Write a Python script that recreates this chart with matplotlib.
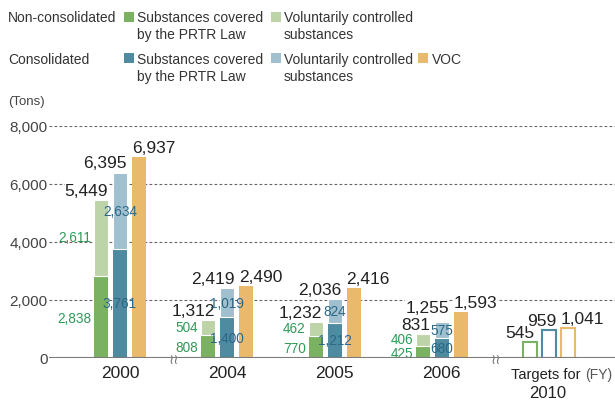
import matplotlib
matplotlib.use("Agg")
import matplotlib.pyplot as plt
from matplotlib.patches import Rectangle
import numpy as np

plt.rcParams["font.family"] = ["Liberation Sans", "DejaVu Sans"]

# ── Data ──────────────────────────────────────────────
years = ["2000", "2004", "2005", "2006"]
nc_prtr = [2838, 808, 770, 425]      # non-consolidated, PRTR Law
nc_vol = [2611, 504, 462, 406]       # non-consolidated, voluntary
c_prtr = [3761, 1400, 1212, 680]     # consolidated, PRTR Law
c_vol = [2634, 1019, 824, 575]       # consolidated, voluntary
voc = [6937, 2490, 2416, 1593]
targets_2010 = [545, 959, 1041]      # nc total, consolidated total, VOC
yticks = [0, 2000, 4000, 6000, 8000]

# ── Style ─────────────────────────────────────────────
G_DARK, G_LIGHT = "#7bb262", "#bcd4a8"
B_DARK, B_LIGHT = "#4e8aa0", "#a0bfcf"
ORANGE = "#e9b96c"
G_TEXT, B_TEXT = "#2e9b57", "#2a6887"
DARK = "#222222"
GREY = "#444444"
SEG_SIZE = 9.8

W, H = 615, 402
fig = plt.figure(figsize=(W / 100, H / 100), dpi=100)


def fx(x):
    return x / W


def fy(y):
    return 1 - y / H


# axes: y=0 at px 359, y=8000 at px 127; group 0 centred at px 120, step 107.25
ax = fig.add_axes([fx(49), fy(359), fx(W - 49), (359 - 127) / H])
step = 107.25
ax.set_xlim((49 - 120) / step, (W - 120) / step)
ax.set_ylim(0, 8000)
for s in ax.spines.values():
    s.set_visible(False)
ax.set_xticks([])
ax.set_yticks(yticks)
ax.set_yticklabels([f"{v:,}" for v in yticks], fontsize=11, color=GREY)
ax.tick_params(axis="y", length=0, pad=1)

for v in yticks[1:]:
    ax.axhline(v, color="#666666", lw=0.8, ls=(0, (2.5, 2)), zorder=0)
ax.axhline(0, color="#7a7a7a", lw=1.5, zorder=4)

bw = 14 / step
off = 19 / step
x = np.arange(len(years))

# ── Bars ──────────────────────────────────────────────
ax.bar(x - off, nc_prtr, bw, color=G_DARK, zorder=2)
ax.bar(x - off, nc_vol, bw, bottom=nc_prtr, color=G_LIGHT, edgecolor="white",
       linewidth=0.8, zorder=2)
ax.bar(x, c_prtr, bw, color=B_DARK, zorder=2)
ax.bar(x, c_vol, bw, bottom=c_prtr, color=B_LIGHT, edgecolor="white",
       linewidth=0.8, zorder=2)
ax.bar(x + off, voc, bw, color=ORANGE, zorder=2)

xt = 4
ax.bar([xt - off, xt, xt + off], targets_2010, bw, color="white",
       edgecolor=[G_DARK, B_DARK, ORANGE], linewidth=1.5, zorder=2)

box = dict(fc="white", ec="none", pad=0)


def total_label(xp, val, ha, dx, dy=1.5):
    ax.annotate(f"{val:,}", (xp, val), xytext=(dx, dy), textcoords="offset points",
                ha=ha, va="bottom", fontsize=12.5, color=DARK, bbox=box, zorder=3)


def seg_label(xp, yp, val, ha, dx, dy, color):
    ax.annotate(f"{val:,}", (xp, yp), xytext=(dx, dy), textcoords="offset points",
                ha=ha, va="center", fontsize=SEG_SIZE, color=color, zorder=3)


half = bw / 2
for i in range(len(years)):
    nt = nc_prtr[i] + nc_vol[i]
    ct = c_prtr[i] + c_vol[i]
    total_label(x[i] - off + half, nt, "right", 0)
    # lift the consolidated total when it sits right above the green one
    total_label(x[i] + half, ct, "right", 0, 4.5 if ct - nt < 500 else 1.5)
    total_label(x[i] + off - half, voc[i], "left", 0)

    seg_label(x[i] - off - half, nc_prtr[i] / 2, nc_prtr[i], "right", -2, -0.5, G_TEXT)
    seg_label(x[i] - off - half, nc_prtr[i] + nc_vol[i] / 2, nc_vol[i], "right", -2, 0.5, G_TEXT)
    seg_label(x[i], c_prtr[i] / 2, c_prtr[i], "center", 0, 0, B_TEXT)
    seg_label(x[i], c_prtr[i] + c_vol[i] / 2, c_vol[i], "center", 0, 0, B_TEXT)

total_label(xt - off + half, targets_2010[0], "right", -2)
total_label(xt + half, targets_2010[1], "right", 0)
total_label(xt + off - half, targets_2010[2], "left", 0)

# ── x labels ──────────────────────────────────────────
for i, yr in enumerate(years):
    ax.annotate(yr, (x[i], 0), xytext=(0, -10.5), textcoords="offset points",
                ha="center", va="center", fontsize=12.5, color=DARK)
ax.annotate("Targets for", (xt - 0.03, 0), xytext=(0, -11.5), textcoords="offset points",
            ha="center", va="center", fontsize=10.5, color=DARK)
ax.annotate("(FY)", (xt + 0.46, 0), xytext=(0, -11.5), textcoords="offset points",
            ha="center", va="center", fontsize=10, color="#555555")
ax.annotate("2010", (xt - 0.01, 0), xytext=(0, -25), textcoords="offset points",
            ha="center", va="center", fontsize=12, color=DARK)

# axis break marks
for xb in [0.5, 3.5]:
    ax.annotate("\u2240\u2240", (xb, 0), xytext=(0, -0.5), textcoords="offset points",
                ha="center", va="center", fontsize=10, color="#777777",
                family="DejaVu Sans", zorder=5)

fig.text(fx(8), fy(102), "(Tons)", fontsize=9.5, color=GREY, va="center")

# ── Legend ────────────────────────────────────────────
LEG = "#333333"


def swatch(x0, y0, color):
    fig.patches.append(Rectangle((fx(x0), fy(y0 + 10)), fx(10), 10 / H,
                                 transform=fig.transFigure, facecolor=color,
                                 edgecolor="none"))


def leg_text(x0, y0, s):
    fig.text(fx(x0), fy(y0), s, fontsize=10, color=LEG, va="center")


leg_text(8, 18, "Non-consolidated")
swatch(124, 13, G_DARK)
leg_text(137, 18, "Substances covered")
leg_text(137, 35, "by the PRTR Law")
swatch(271, 13, G_LIGHT)
leg_text(284, 18, "Voluntarily controlled")
leg_text(284, 35, "substances")

leg_text(8, 60, "Consolidated")
swatch(124, 54, B_DARK)
leg_text(137, 60, "Substances covered")
leg_text(137, 77, "by the PRTR Law")
swatch(271, 54, B_LIGHT)
leg_text(284, 60, "Voluntarily controlled")
leg_text(284, 77, "substances")
swatch(418, 54, ORANGE)
leg_text(432, 60, "VOC")

fig.savefig("out.png", dpi=100)
